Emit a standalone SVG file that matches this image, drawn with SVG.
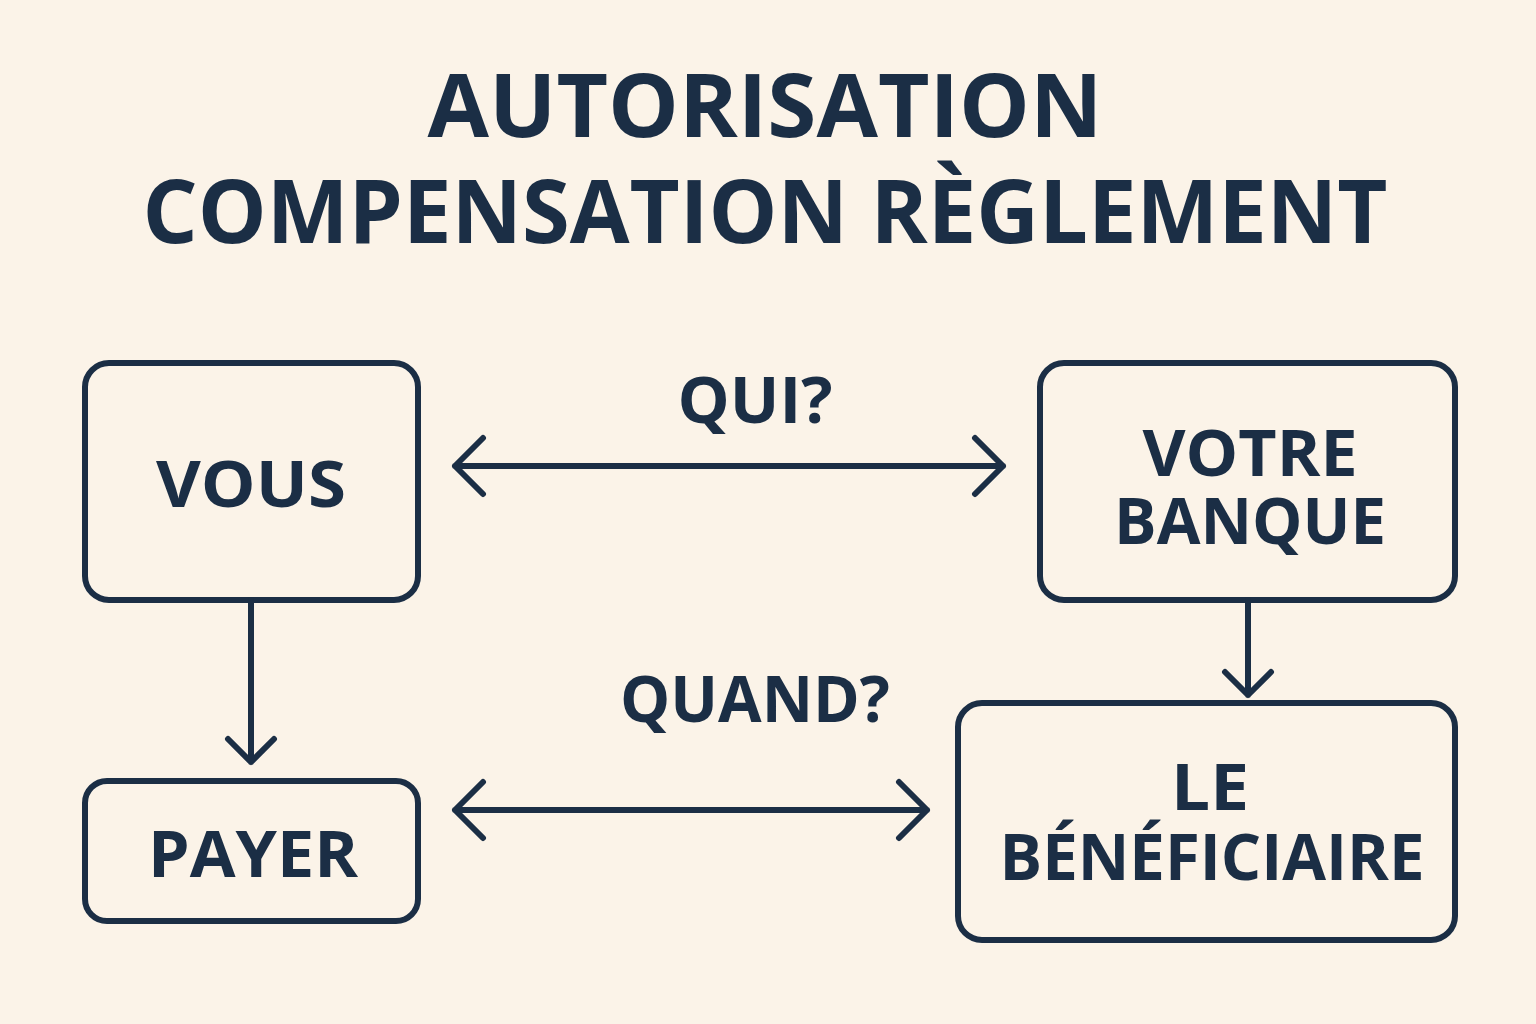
<svg xmlns="http://www.w3.org/2000/svg" width="1536" height="1024" viewBox="0 0 1536 1024">
<style>
.bx{fill:none;stroke:#1B2E45;stroke-width:6}
.ln{fill:none;stroke:#1B2E45;stroke-width:6;stroke-linecap:round;stroke-linejoin:round}
text{font-family:"Open Sans","DejaVu Sans",sans-serif;font-weight:700;fill:#1B2E45;text-anchor:middle}
.t{font-size:88px}
.n{font-size:64px}
</style>
<rect width="1536" height="1024" fill="#FBF3E8"/>
<g id="title">
<text class="t" x="765" y="137" textLength="675" lengthAdjust="spacingAndGlyphs">AUTORISATION</text>
<text class="t" x="765" y="243" textLength="1245" lengthAdjust="spacingAndGlyphs">COMPENSATION RÈGLEMENT</text>
</g>
<g id="vous"><rect class="bx" x="85" y="363" width="333" height="237" rx="24"/><text class="n" x="251" y="507" textLength="190" lengthAdjust="spacingAndGlyphs">VOUS</text></g>
<g id="banque"><rect class="bx" x="1040" y="363" width="415" height="237" rx="24"/><text class="n" x="1250" y="476" textLength="215" lengthAdjust="spacingAndGlyphs">VOTRE</text><text class="n" x="1250" y="544" textLength="272" lengthAdjust="spacingAndGlyphs">BANQUE</text></g>
<g id="payer"><rect class="bx" x="85" y="781" width="333" height="140" rx="22"/><text class="n" x="253" y="877" textLength="210" lengthAdjust="spacingAndGlyphs">PAYER</text></g>
<g id="beneficiaire"><rect class="bx" x="958" y="703" width="497" height="237" rx="24"/><text class="n" x="1210" y="810" textLength="78" lengthAdjust="spacingAndGlyphs">LE</text><text class="n" x="1212" y="880" textLength="425" lengthAdjust="spacingAndGlyphs">BÉNÉFICIAIRE</text></g>
<g id="labels">
<text class="n" x="755" y="423" textLength="155" lengthAdjust="spacingAndGlyphs">QUI?</text>
<text class="n" x="755" y="722" textLength="270" lengthAdjust="spacingAndGlyphs">QUAND?</text>
</g>
<g id="connectors">
<path class="ln" d="M455 466H1003M483 438L455 466L483 494M975 438L1003 466L975 494"/>
<path class="ln" d="M455 810H927M483 782L455 810L483 838M899 782L927 810L899 838"/>
<path class="ln" d="M251 600V762M228 739L251 762L274 739"/>
<path class="ln" d="M1248 600V695M1225 672L1248 695L1271 672"/>
</g>
</svg>
